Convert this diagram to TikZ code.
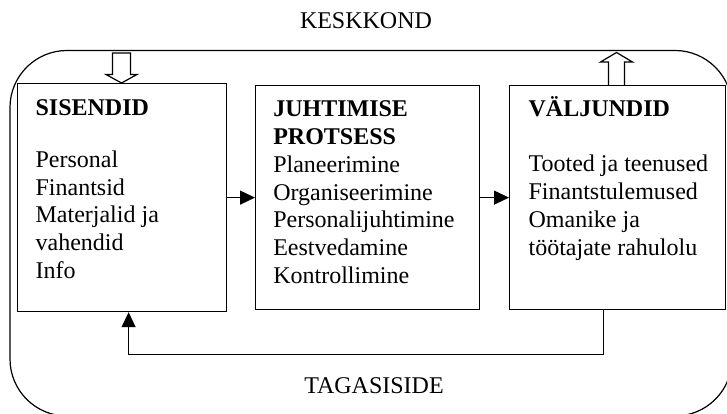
\documentclass[tikz,border=0pt]{standalone}
\usepackage{fontspec}
\setmainfont{Liberation Serif}
\usetikzlibrary{arrows.meta}
\newcommand{\firststrut}{\rule{0pt}{22pt}}
\begin{document}
\begin{tikzpicture}[x=1pt,y=-1pt, line width=1.2pt,
  box/.style={draw, rectangle, inner sep=0pt, anchor=north west},
  txt/.style={inner sep=0pt, anchor=north west, align=left, font=\fontsize{24}{27.8}\selectfont},
  ttl/.style={inner sep=0pt, anchor=north west, align=left, font=\fontsize{24}{27.8}\selectfont\bfseries},
  lbl/.style={inner sep=0pt, anchor=base, font=\fontsize{24}{27.8}\selectfont},
  flow/.style={-{Triangle[length=15pt,width=14pt]}},
  hollow/.style={draw, fill=white, line join=miter}]
\clip (0,0) rectangle (727,414);
\draw[rounded corners=57pt] (10,50.5) rectangle (732,416);
% boxes
\node[box, minimum width=209pt, minimum height=228pt] (sis) at (17,83) {};
\node[box, minimum width=224pt, minimum height=224pt] (jut) at (255,85) {};
\node[box, minimum width=216pt, minimum height=224pt] (val) at (509,85) {};
% texts (node top = first baseline - 22pt)
\node[ttl] (sist) at (35,92.5) {\firststrut SISENDID};
\node[txt] (sisl) at (35,144.7) {\firststrut Personal\\Finantsid\\Materjalid ja\\vahendid\\Info};
\node[ttl] (jutt) at (272.7,94) {\firststrut JUHTIMISE\\PROTSESS};
\node[txt] (jutl) at (272.7,149.7) {\firststrut Planeerimine\\Organiseerimine\\Personalijuhtimine\\Eestvedamine\\Kontrollimine};
\node[ttl] (valt) at (528,93.7) {\firststrut VÄLJUNDID};
\node[txt] (vall) at (528,149) {\firststrut Tooted ja teenused\\Finantstulemused\\Omanike ja\\töötajate rahulolu};
\node[lbl] (kesk) at (366,28.3) {KESKKOND};
\node[lbl] (taga) at (374,393) {TAGASISIDE};
% connectors
\draw[flow] (sis.east) -- (jut.west);
\draw[flow] (jut.east) -- (val.west);
\draw[flow] ([xshift=-14pt]val.south) -- ++(0,44) -| ([xshift=6.5pt]sis.south);
% hollow arrows
\draw[hollow] (112.5,53) -- (130.5,53) -- (130.5,74.5) -- (137,74.5) -- (121.5,83) -- (106,74.5) -- (112.5,74.5) -- cycle;
\draw[hollow] (608.5,85) -- (608.5,62) -- (600.5,62) -- (616.5,52.5) -- (632.5,62) -- (624.5,62) -- (624.5,85);
\end{tikzpicture}
\end{document}
